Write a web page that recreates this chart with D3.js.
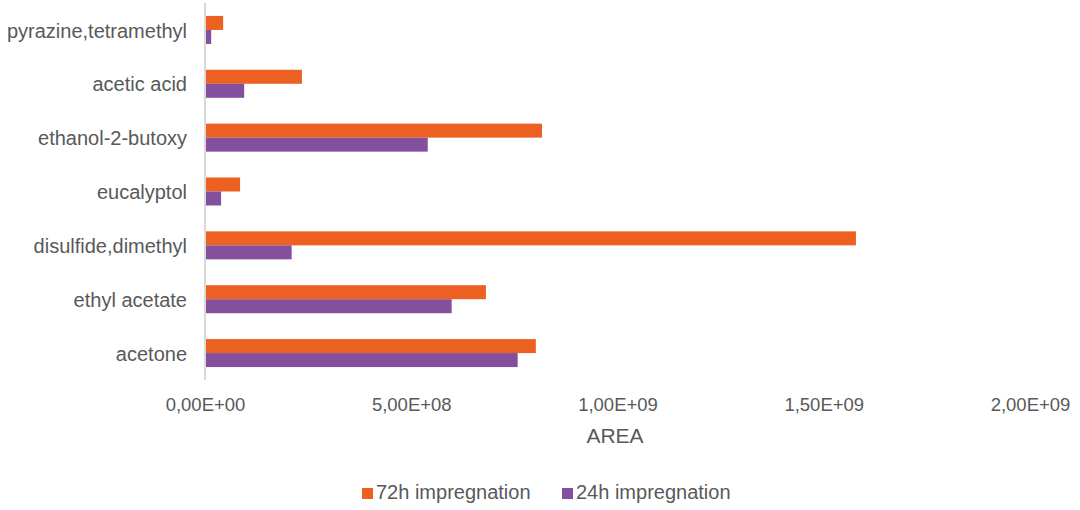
<!DOCTYPE html>
<html><head><meta charset="utf-8">
<script src="https://cdn.jsdelivr.net/npm/d3@7"></script>
<style>
body{margin:0;background:#fff;}
text{font-family:"Liberation Sans",Arial,sans-serif;fill:#595959;}
</style></head>
<body><svg id="c" width="1080" height="510"></svg>
<script>
const categories = ["pyrazine,tetramethyl","acetic acid","ethanol-2-butoxy","eucalyptol","disulfide,dimethyl","ethyl acetate","acetone"];
const seriesNames = ["72h impregnation","24h impregnation"];
const values72h = [4.4e7, 2.35e8, 8.17e8, 8.5e7, 1.578e9, 6.81e8, 8.02e8];
const values24h = [1.5e7, 9.5e7, 5.4e8, 3.9e7, 2.1e8, 5.98e8, 7.58e8];
const tickValues = [0, 5e8, 1e9, 1.5e9, 2e9];
const tickLabels = ["0,00E+00","5,00E+08","1,00E+09","1,50E+09","2,00E+09"];
const colors = ["#EC6022","#844F9C"];

const svg = d3.select("#c");
const x = d3.scaleLinear().domain([0,2e9]).range([205,1030]);
const y = d3.scaleBand().domain(categories).range([3,380]).paddingInner(0.48).paddingOuter(0.24);
const sub = d3.scaleBand().domain(seriesNames).range([0,y.bandwidth()]);

const series = [values72h, values24h];
series.forEach((vals,si)=>{
  svg.append("g").selectAll("rect").data(categories).join("rect")
    .attr("x", x(0))
    .attr("y", (d)=>y(d)+sub(seriesNames[si]))
    .attr("width", (d,i)=>x(vals[i])-x(0))
    .attr("height", sub.bandwidth())
    .attr("fill", colors[si]);
});

// axis line
svg.append("line").attr("x1",x(0)).attr("x2",x(0)).attr("y1",3).attr("y2",380)
  .attr("stroke","#d9d9d9").attr("stroke-width",2);

const ff = "'Liberation Sans',Arial,sans-serif";
// category labels
const yAxis = d3.axisLeft(y).tickSize(0).tickPadding(0);
const gy = svg.append("g").attr("transform",`translate(187,0)`).call(yAxis);
gy.select(".domain").remove();
gy.selectAll("text").style("font-size","20px").attr("fill","#595959").style("font-family",ff).attr("dy","0.38em");

// x tick labels
const xAxis = d3.axisBottom(x).tickValues(tickValues).tickFormat((d,i)=>tickLabels[i]).tickSize(0).tickPadding(0);
const gx = svg.append("g").attr("transform","translate(0,398)").call(xAxis);
gx.select(".domain").remove();
gx.selectAll("text").style("font-size","18.5px").attr("fill","#595959").style("font-family",ff);

svg.append("text").attr("x",615).attr("y",443).attr("text-anchor","middle")
  .style("font-size","21px").text("AREA");

// legend
const legX = [362, 562];
seriesNames.forEach((n,i)=>{
  svg.append("rect").attr("x",legX[i]).attr("y",488).attr("width",11).attr("height",11).attr("fill",colors[i]);
  svg.append("text").attr("x",legX[i]+14).attr("y",499).style("font-size","20px").text(n);
});
</script></body></html>
